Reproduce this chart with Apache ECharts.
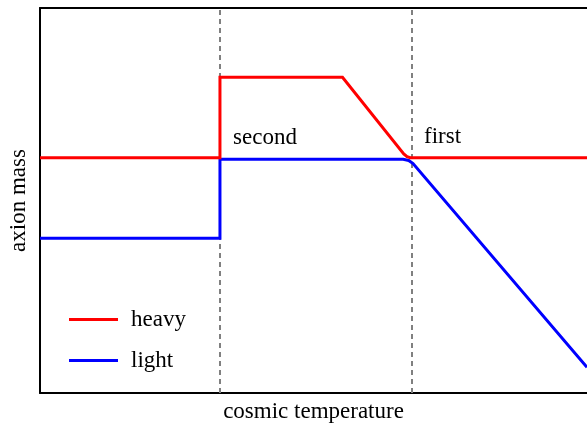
<!DOCTYPE html>
<html>
<head>
<meta charset="utf-8">
<script src="https://cdn.jsdelivr.net/npm/echarts@6/dist/echarts.min.js"></script>
<style>html,body{margin:0;padding:0;background:#fff;}#c{width:587px;height:424px;}</style>
</head>
<body>
<div id="c"></div>
<script>
// Data (arbitrary units: x = cosmic temperature, y = axion mass)
const heavyX = [0, 32.9, 32.9, 55.3, 66.5, 67.1, 67.7, 100];
const heavyY = [61.1, 61.1, 82.0, 82.0, 62.1, 61.4, 61.1, 61.1];
const lightX = [0, 32.9, 32.9, 66.4, 67.4, 68.2, 100];
const lightY = [40.2, 40.2, 60.7, 60.7, 60.4, 59.6, 6.7];
const transitionX = [32.9, 68.0];
const transitionNames = ['second', 'first'];
const labelX = [35.3, 70.2];
const labelY = [66.2, 66.4];
const seriesNames = ['heavy', 'light'];

const zip = (xs, ys) => xs.map((x, i) => [x, ys[i]]);
const FONT = '"Liberation Serif", "Times New Roman", serif';
const FS = 23;

const chart = echarts.init(document.getElementById('c'));
chart.setOption({
  animation: false,
  backgroundColor: '#fff',
  grid: { left: 40, top: 8, right: 0, bottom: 31, containLabel: false, outerBoundsMode: 'none' },
  xAxis: [
    {
      type: 'value', min: 0, max: 100, position: 'bottom',
      name: 'cosmic temperature', nameLocation: 'middle', nameGap: 7,
      nameTextStyle: { fontFamily: FONT, fontSize: FS, color: '#000' },
      axisLine: { show: true, lineStyle: { color: '#000', width: 2 } },
      axisTick: { show: false }, axisLabel: { show: false }, splitLine: { show: false }
    },
    {
      type: 'value', min: 0, max: 100, position: 'top',
      axisLine: { show: true, lineStyle: { color: '#000', width: 2 } },
      axisTick: { show: false }, axisLabel: { show: false }, splitLine: { show: false }
    }
  ],
  yAxis: {
    type: 'value', min: 0, max: 100,
    name: 'axion mass', nameLocation: 'middle', nameGap: 10, nameRotate: 90,
    nameTextStyle: { fontFamily: FONT, fontSize: FS, color: '#000' },
    axisLine: { show: true, lineStyle: { color: '#000', width: 2 } },
    axisTick: { show: false }, axisLabel: { show: false }, splitLine: { show: false }
  },
  legend: {
    data: seriesNames,
    orient: 'vertical', left: 69, top: 308, padding: 0,
    icon: 'rect', itemWidth: 49, itemHeight: 3, itemGap: 18,
    textStyle: { fontFamily: FONT, fontSize: FS, color: '#000', lineHeight: 22, padding: [0, 0, 0, 8] }
  },
  series: [
    {
      type: 'line', name: 'transitions', data: [], z: 1, silent: true,
      markLine: {
        z: 1, silent: true, symbol: 'none', animation: false,
        label: { show: false },
        lineStyle: { color: '#808080', width: 2, type: [5, 4] },
        data: transitionX.map(x => ({ xAxis: x }))
      },
      markPoint: {
        silent: true, symbol: 'circle', symbolSize: 0,
        label: {
          show: true, position: 'right', distance: 0,
          fontFamily: FONT, fontSize: FS, color: '#000',
          formatter: p => p.name
        },
        data: transitionNames.map((n, i) => ({ name: n, coord: [labelX[i], labelY[i]] }))
      }
    },
    {
      type: 'line', name: 'heavy', data: zip(heavyX, heavyY), z: 3,
      showSymbol: false, symbol: 'none', color: '#ff0000',
      lineStyle: { color: '#ff0000', width: 3, join: 'miter' }
    },
    {
      type: 'line', name: 'light', data: zip(lightX, lightY), z: 2,
      showSymbol: false, symbol: 'none', color: '#0000ff',
      lineStyle: { color: '#0000ff', width: 3, join: 'miter' }
    }
  ]
});
</script>
</body>
</html>
